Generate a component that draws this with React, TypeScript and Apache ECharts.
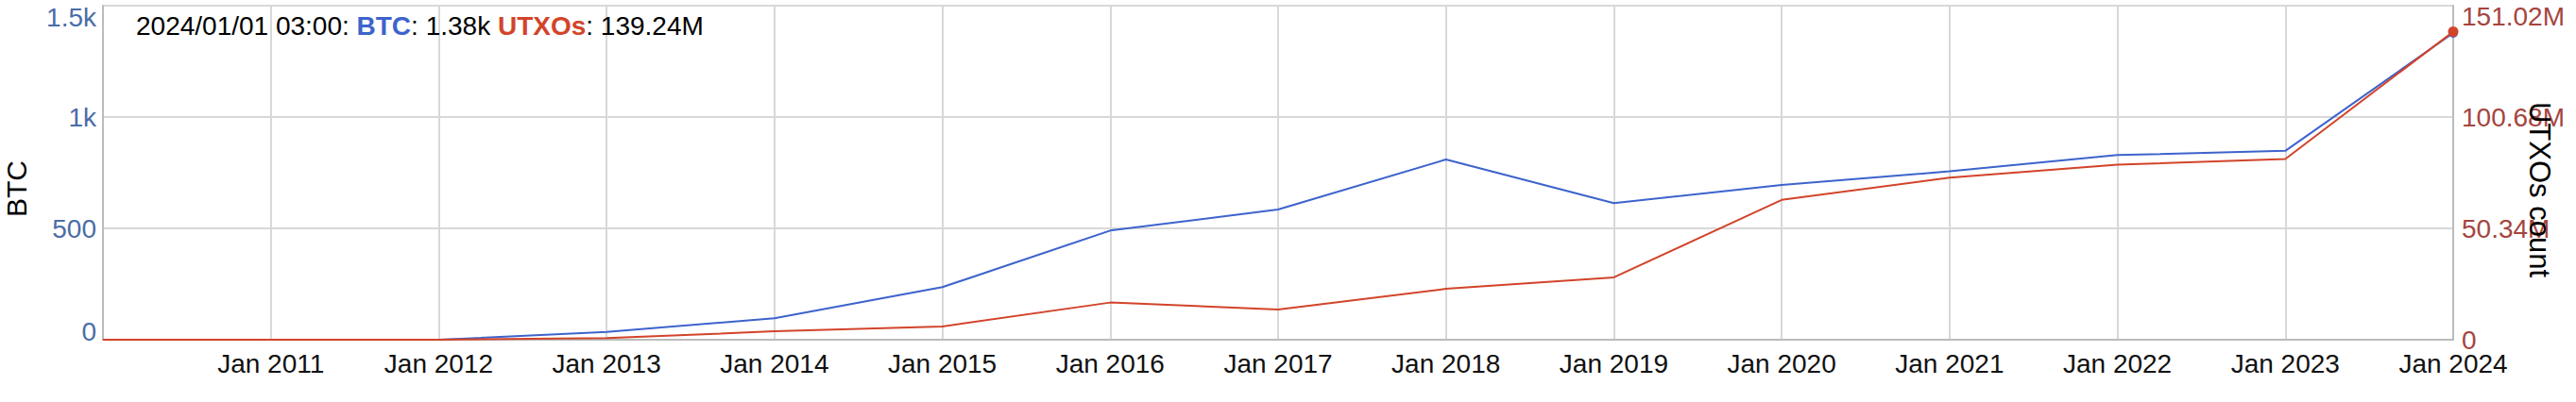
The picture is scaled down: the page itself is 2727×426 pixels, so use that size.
import { useRef, useEffect } from 'react'
import * as echarts from 'echarts'

// yearly snapshots, Jan 1st
const YEARS = [2010, 2011, 2012, 2013, 2014, 2015, 2016, 2017, 2018, 2019, 2020, 2021, 2022, 2023, 2024]
const BTC = [0, 0, 0, 35, 96, 236, 490, 585, 809, 613, 695, 756, 829, 848, 1377]
const UTXOS_M = [0, 0, 0, 0.7, 3.8, 6.0, 16.8, 13.7, 23.0, 28.2, 63.2, 73.3, 79.1, 81.7, 139.24]

const BTC_TICKS = { min: 0, max: 1500, interval: 500 }
const UTXO_TICKS = { min: 0, max: 151020000, interval: 50340000 }
const LEGEND_DATE = '2024/01/01 03:00'

const BLUE = '#3d63cc'
const RED = '#d2442a'
const LEFT_LABEL = '#4a6da6'
const RIGHT_LABEL = '#a5453f'
const FONT = '"Liberation Sans", Arial, Helvetica, sans-serif'
const FS = 28

function fmtBtc(v: number) {
  if (v >= 1000) return `${+(v / 1000).toFixed(2)}k`
  return `${v}`
}

function fmtUtxo(v: number) {
  if (v === 0) return '0'
  return `${(v / 1e6).toFixed(2)}M`
}

function buildOption() {
  const last = YEARS.length - 1
  const btcData = YEARS.map((y, i) => [y, BTC[i]])
  const utxoData = YEARS.map((y, i) => [y, UTXOS_M[i] * 1e6])

  const legend = `${LEGEND_DATE}: {b|BTC}: ${fmtBtc(BTC[last])} {u|UTXOs}: ${fmtUtxo(UTXOS_M[last] * 1e6)}`

  return {
    animation: false,
    backgroundColor: '#fff',
    textStyle: { fontFamily: FONT },
    grid: { left: 109, right: 130, top: 6, bottom: 66, containLabel: false },
    xAxis: {
      type: 'value',
      min: YEARS[0],
      max: YEARS[last],
      interval: 1,
      axisLine: { show: true, lineStyle: { color: '#bbb', width: 2 } },
      axisTick: { show: false },
      splitLine: { show: true, lineStyle: { color: '#d8d8d8', width: 2 } },
      axisLabel: {
        showMinLabel: false,
        margin: 11,
        fontSize: FS,
        color: '#111',
        fontFamily: FONT,
        formatter: (v: number) => `Jan ${v}`,
      },
    },
    yAxis: [
      {
        type: 'value',
        position: 'left',
        ...BTC_TICKS,
        axisLine: { show: true, lineStyle: { color: '#bbb', width: 2 } },
        axisTick: { show: false },
        splitLine: { show: true, lineStyle: { color: '#d8d8d8', width: 2 } },
        axisLabel: {
          margin: 7,
          fontSize: FS,
          color: LEFT_LABEL,
          fontFamily: FONT,
          formatter: (v: number) => {
            if (v === BTC_TICKS.max) return `{top|${fmtBtc(v)}}`
            if (v === 0) return '{bot|0}'
            return fmtBtc(v)
          },
          rich: {
            top: { fontSize: FS, color: LEFT_LABEL, fontFamily: FONT, padding: [24, 0, 0, 0] },
            bot: { fontSize: FS, color: LEFT_LABEL, fontFamily: FONT, padding: [0, 0, 18, 0] },
          },
        },
      },
      {
        type: 'value',
        position: 'right',
        ...UTXO_TICKS,
        axisLine: { show: true, lineStyle: { color: '#bbb', width: 2 } },
        axisTick: { show: false },
        splitLine: { show: false },
        axisLabel: {
          margin: 9,
          fontSize: FS,
          color: RIGHT_LABEL,
          fontFamily: FONT,
          formatter: (v: number) => (v === UTXO_TICKS.max ? `{top|${fmtUtxo(v)}}` : fmtUtxo(v)),
          rich: {
            top: { fontSize: FS, color: RIGHT_LABEL, fontFamily: FONT, padding: [22, 0, 0, 0] },
          },
        },
      },
    ],
    series: [
      {
        name: 'BTC',
        type: 'line',
        yAxisIndex: 0,
        data: btcData,
        showSymbol: false,
        symbol: 'none',
        lineStyle: { color: BLUE, width: 2 },
        itemStyle: { color: BLUE },
        markPoint: {
          symbol: 'circle',
          symbolSize: 10,
          label: { show: false },
          itemStyle: { color: BLUE },
          data: [{ coord: btcData[last] }],
        },
        z: 3,
      },
      {
        name: 'UTXOs',
        type: 'line',
        yAxisIndex: 1,
        data: utxoData,
        symbol: 'none',
        lineStyle: { color: RED, width: 2 },
        itemStyle: { color: RED },
        markPoint: {
          symbol: 'circle',
          symbolSize: 11,
          label: { show: false },
          itemStyle: { color: RED },
          data: [{ coord: utxoData[last] }],
        },
        z: 4,
      },
    ],
    graphic: [
      {
        type: 'text',
        left: 144,
        top: 13,
        style: {
          text: legend,
          fontSize: FS,
          fontFamily: FONT,
          fill: '#000',
          rich: {
            b: { fontSize: FS, fontFamily: FONT, fontWeight: 'bold', fill: BLUE },
            u: { fontSize: FS, fontFamily: FONT, fontWeight: 'bold', fill: RED },
          },
        },
        z: 10,
      },
      {
        type: 'text',
        x: 17,
        y: 200,
        rotation: Math.PI / 2,
        style: {
          text: 'BTC',
          fontSize: 30,
          fontFamily: FONT,
          fill: '#000',
          align: 'center',
          verticalAlign: 'middle',
        },
      },
      {
        type: 'text',
        x: 2688,
        y: 201,
        rotation: -Math.PI / 2,
        style: {
          text: 'UTXOs count',
          fontSize: 31,
          fontFamily: FONT,
          fill: '#000',
          align: 'center',
          verticalAlign: 'middle',
        },
        z: 10,
      },
    ],
  }
}

export default function App() {
  const chartEl = useRef<HTMLDivElement>(null)

  useEffect(() => {
    document.body.style.margin = '0'
    if (!chartEl.current) return
    const chart = echarts.init(chartEl.current, null, { renderer: 'svg' })
    chart.setOption(buildOption())
    return () => chart.dispose()
  }, [])

  return <div ref={chartEl} style={{ width: 2727, height: 426 }} />
}
